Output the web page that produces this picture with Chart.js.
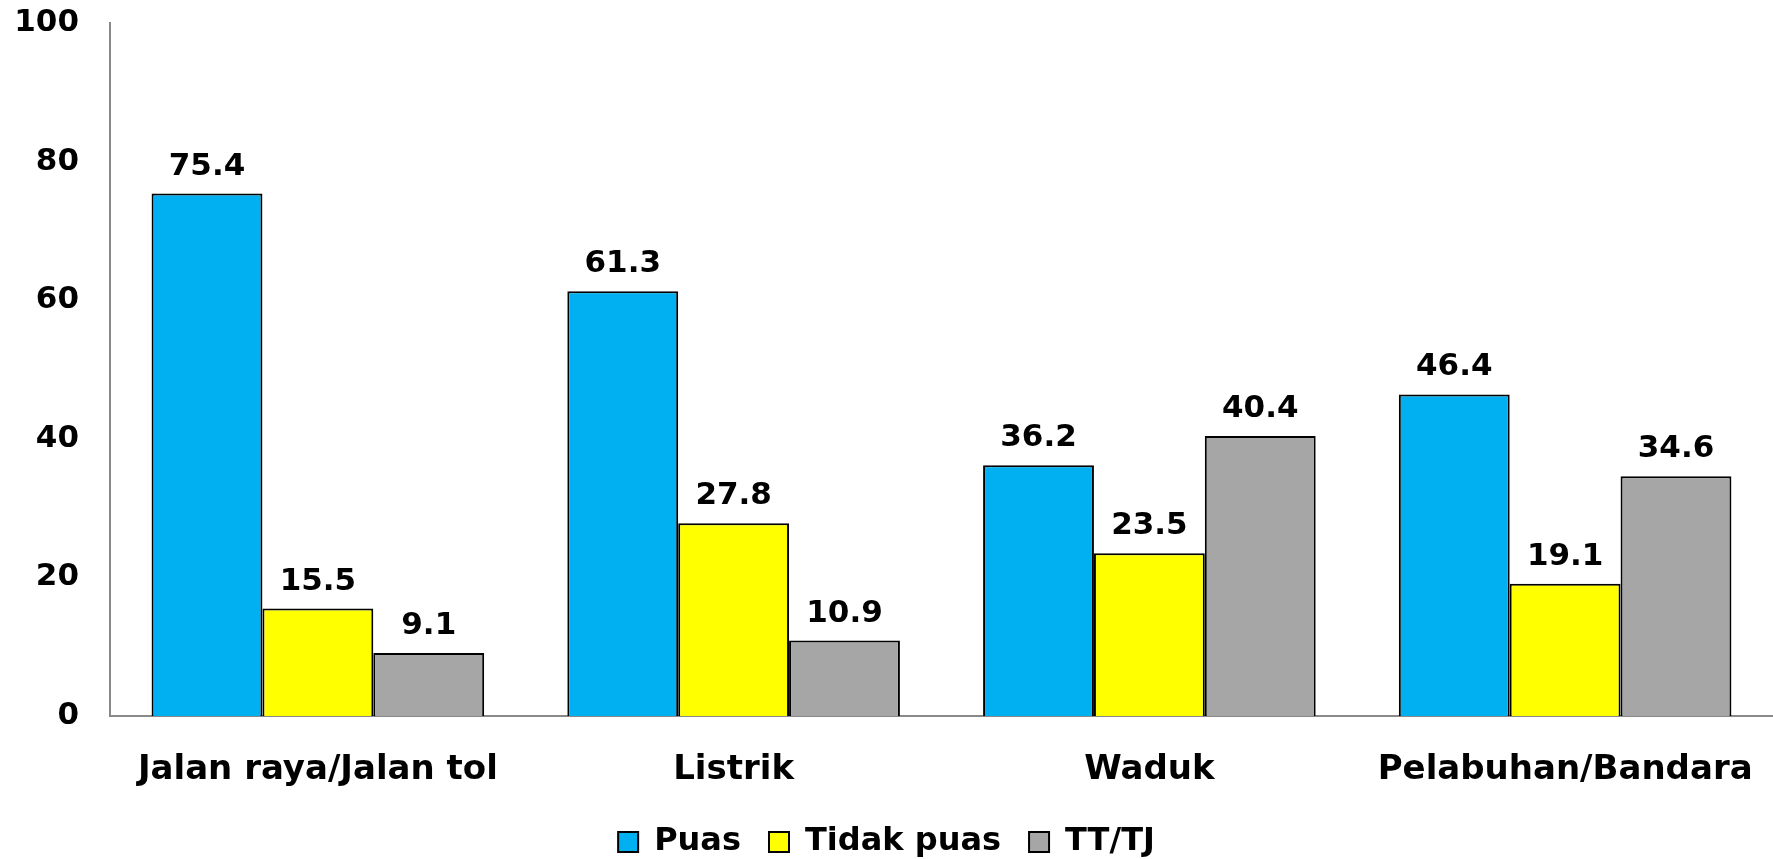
<!DOCTYPE html>
<html>
<head>
<meta charset="utf-8">
<script src="https://cdn.jsdelivr.net/npm/chart.js@4.4.0/dist/chart.umd.min.js"></script>
<style>
html,body{margin:0;padding:0;background:#fff;overflow:hidden;}
#wrap{width:1773px;height:859px;position:relative;}
canvas{display:block;}
</style>
</head>
<body>
<div id="wrap"><canvas id="c" width="1773" height="859"></canvas></div>
<script>
const categories = ["Jalan raya/Jalan tol", "Listrik", "Waduk", "Pelabuhan/Bandara"];
const puas = [75.4, 61.3, 36.2, 46.4];
const tidakPuas = [15.5, 27.8, 23.5, 19.1];
const ttTj = [9.1, 10.9, 40.4, 34.6];
const seriesNames = ["Puas", "Tidak puas", "TT/TJ"];
const yTicks = [0, 20, 40, 60, 80, 100];

const FONT = "'DejaVu Sans', Verdana, sans-serif";

const valueLabels = {
  id: 'valueLabels',
  afterDatasetsDraw(chart) {
    const ctx = chart.ctx;
    ctx.save();
    ctx.font = "bold 31px " + FONT;
    ctx.fillStyle = '#000';
    ctx.textAlign = 'center';
    ctx.textBaseline = 'middle';
    chart.data.datasets.forEach((ds, i) => {
      const meta = chart.getDatasetMeta(i);
      meta.data.forEach((bar, j) => {
        ctx.fillText(ds.data[j].toFixed(1), bar.x, bar.y - 27);
      });
    });
    ctx.restore();
  }
};

const LEGEND_SHRINK = 9;
const legendShrink = {
  id: 'legendShrink',
  afterInit(chart) {
    const lg = chart.legend;
    if (!lg || lg._shrunk) return;
    const orig = lg.fit.bind(lg);
    lg.fit = function () { orig(); this.height -= LEGEND_SHRINK; };
    lg._shrunk = true;
  }
};

const chart = new Chart(document.getElementById('c'), {
  type: 'bar',
  data: {
    labels: categories,
    datasets: [
      {label: seriesNames[0], data: puas, backgroundColor: '#00B0F0'},
      {label: seriesNames[1], data: tidakPuas, backgroundColor: '#FFFF00'},
      {label: seriesNames[2], data: ttTj, backgroundColor: '#A6A6A6'}
    ].map(d => Object.assign(d, {borderColor: '#000', borderWidth: 2, categoryPercentage: 0.8, barPercentage: 1.0}))
  },
  options: {
    responsive: false,
    animation: false,
    layout: {padding: {top: 23, left: 0, right: 0, bottom: 0}},
    plugins: {
      tooltip: {enabled: false},
      legend: {
        position: 'bottom',
        labels: {
          font: {family: FONT, size: 32, weight: 'bold'},
          color: '#000',
          boxWidth: 20,
          boxHeight: 20,
          padding: 28
        }
      }
    },
    scales: {
      x: {
        grid: {display: false, drawTicks: false},
        border: {display: true, color: '#898989', width: 2},
        ticks: {font: {family: FONT, size: 34, weight: 'bold'}, color: '#000', padding: 34, maxRotation: 0, autoSkip: false},
        afterFit(s) { s.height = 82; s.paddingLeft = 0; s.paddingRight = 0; }
      },
      y: {
        min: 0, max: 100,
        afterBuildTicks(s) { s.ticks = yTicks.map(v => ({value: v})); },
        grid: {display: false, drawTicks: false},
        border: {display: true, color: '#898989', width: 2},
        ticks: {font: {family: FONT, size: 31, weight: 'bold'}, color: '#000', padding: 31},
        afterFit(s) { s.width = 110; s.paddingTop = 0; s.paddingBottom = 0; }
      }
    }
  },
  plugins: [valueLabels, legendShrink]
});
</script>
</body>
</html>
